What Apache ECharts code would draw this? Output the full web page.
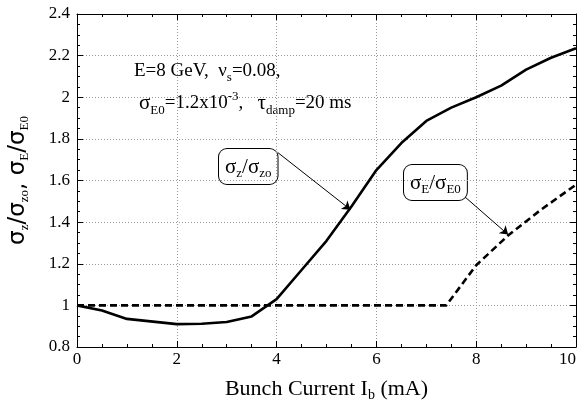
<!DOCTYPE html>
<html>
<head>
<meta charset="utf-8">
<script src="https://cdn.jsdelivr.net/npm/echarts@6/dist/echarts.min.js"></script>
<style>
  html, body { margin: 0; padding: 0; background: #fff; }
  #chart { width: 582px; height: 400px; }
</style>
</head>
<body>
<div id="chart"></div>
<script>
// bunch current (mA)
const currentZ = [0, 0.5, 1, 2, 2.5, 3, 3.5, 4, 4.5, 5, 5.5, 6, 6.5, 7, 7.5, 8, 8.5, 9, 9.5, 10]
const sigmaZ = [1.0, 0.975, 0.935, 0.91, 0.912, 0.92, 0.947, 1.03, 1.17, 1.31, 1.475, 1.65, 1.78, 1.886, 1.95, 2.0, 2.056, 2.133, 2.19, 2.235]

const currentE = [0, 7.4, 8, 8.65, 9.3, 10]
const sigmaE = [1.0, 1.0, 1.193, 1.338, 1.46, 1.58]

const serif = '"Liberation Serif", "DejaVu Serif", serif'

const chart = echarts.init(document.getElementById('chart'))

const pairs = (xs, ys) => xs.map((x, i) => [x, ys[i]])

const grid = { show: true, lineStyle: { color: '#999', type: [1, 2], width: 1 } }

const axisCommon = {
  type: 'value',
  axisLine: { show: true, onZero: false, lineStyle: { color: '#000', width: 1 } },
  axisTick: { show: true, inside: true, length: 6, lineStyle: { color: '#000', width: 1 } },
  minorTick: { show: true, splitNumber: 4, length: 3, lineStyle: { color: '#000', width: 1 } }
}

chart.setOption({
  animation: false,
  grid: { left: 77, right: 6, top: 14, bottom: 53, containLabel: false, outerBoundsMode: 'none' },
  xAxis: [{
    ...axisCommon,
    min: 0, max: 10, interval: 2,
    position: 'bottom',
    axisLabel: { color: '#000', fontFamily: serif, fontSize: 17, margin: 4, alignMaxLabel: 'right' },
    splitLine: grid,
    name: 'Bunch Current I{sub|b} (mA)',
    nameLocation: 'middle',
    nameGap: 29,
    nameTextStyle: {
      color: '#000', fontFamily: serif, fontSize: 22,
      rich: { sub: { fontFamily: serif, fontSize: 14, padding: [12, 0, 0, 0], verticalAlign: 'bottom' } }
    }
  }, {
    ...axisCommon,
    min: 0, max: 10, interval: 2,
    position: 'top',
    axisLabel: { show: false },
    splitLine: { show: false }
  }],
  yAxis: [{
    ...axisCommon,
    min: 0.8, max: 2.4, interval: 0.2,
    position: 'left',
    axisLabel: { color: '#000', fontFamily: serif, fontSize: 17, margin: 7 },
    splitLine: grid,
    name: '{s|σ}{sub|z}{s|/σ}{sub|zo}{s|, σ}{sub|E}{s|/σ}{sub|E0}',
    nameLocation: 'middle',
    nameGap: 46,
    nameTextStyle: {
      color: '#000',
      rich: {
        s: { fontFamily: '"DejaVu Sans", sans-serif', fontSize: 23, color: '#000' },
        sub: { fontFamily: serif, fontSize: 13, color: '#000', padding: [13, 0, 0, 0], verticalAlign: 'bottom' }
      }
    }
  }, {
    ...axisCommon,
    min: 0.8, max: 2.4, interval: 0.2,
    position: 'right',
    axisLabel: { show: false },
    splitLine: { show: false }
  }],
  series: [{
    name: 'sigmaZ',
    type: 'line',
    data: pairs(currentZ, sigmaZ),
    showSymbol: false,
    z: 5,
    lineStyle: { color: '#000', width: 2.6 },
    markLine: {
      silent: true,
      symbol: ['none', 'arrow'],
      symbolSize: 8,
      label: { show: false },
      lineStyle: { color: '#000', width: 1, type: 'solid' },
      data: [
        [{ coord: [4.02, 1.735] }, { coord: [5.48, 1.46] }],
        [{ coord: [7.78, 1.52] }, { coord: [8.64, 1.34] }]
      ]
    }
  }, {
    name: 'sigmaE',
    type: 'line',
    data: pairs(currentE, sigmaE),
    showSymbol: false,
    z: 5,
    lineStyle: { color: '#000', width: 2.6, type: [7, 4] }
  }],
  graphic: [{
    type: 'text',
    left: 134, top: 62,
    style: {
      text: 'E=8 GeV,  ν{sub|s}=0.08,',
      fontFamily: serif, fontSize: 19, fill: '#000',
      rich: { sub: { fontFamily: serif, fontSize: 13, padding: [12, 0, 0, 0], verticalAlign: 'bottom' } }
    }
  }, {
    type: 'text',
    left: 139, top: 90,
    style: {
      text: '{g|σ}{sub|E0}=1.2x10{sup|-3},   {g|τ}{sub|damp}=20 ms',
      fontFamily: serif, fontSize: 19, fill: '#000',
      rich: {
        g: { fontFamily: serif, fontSize: 21 },
        sub: { fontFamily: serif, fontSize: 13, padding: [14, 0, 0, 0], verticalAlign: 'bottom' },
        sup: { fontFamily: serif, fontSize: 13, padding: [0, 0, 12, 0], verticalAlign: 'top' }
      }
    }
  }, {
    type: 'text',
    left: 218, top: 148,
    style: {
      text: '{g|σ}{sub|z}{g|/σ}{sub|zo}',
      fontFamily: serif, fontSize: 19, fill: '#000',
      backgroundColor: '#fff', borderColor: '#000', borderWidth: 1, borderRadius: 8,
      padding: [6, 6, 4, 6],
      rich: {
        g: { fontFamily: serif, fontSize: 21 },
        sub: { fontFamily: serif, fontSize: 13, padding: [12, 0, 0, 0], verticalAlign: 'bottom' }
      }
    }
  }, {
    type: 'text',
    left: 403, top: 164,
    style: {
      text: '{g|σ}{sub|E}{g|/σ}{sub|E0}',
      fontFamily: serif, fontSize: 19, fill: '#000',
      backgroundColor: '#fff', borderColor: '#000', borderWidth: 1, borderRadius: 8,
      padding: [6, 6, 4, 6],
      rich: {
        g: { fontFamily: serif, fontSize: 21 },
        sub: { fontFamily: serif, fontSize: 13, padding: [12, 0, 0, 0], verticalAlign: 'bottom' }
      }
    }
  }]
})
</script>
</body>
</html>
